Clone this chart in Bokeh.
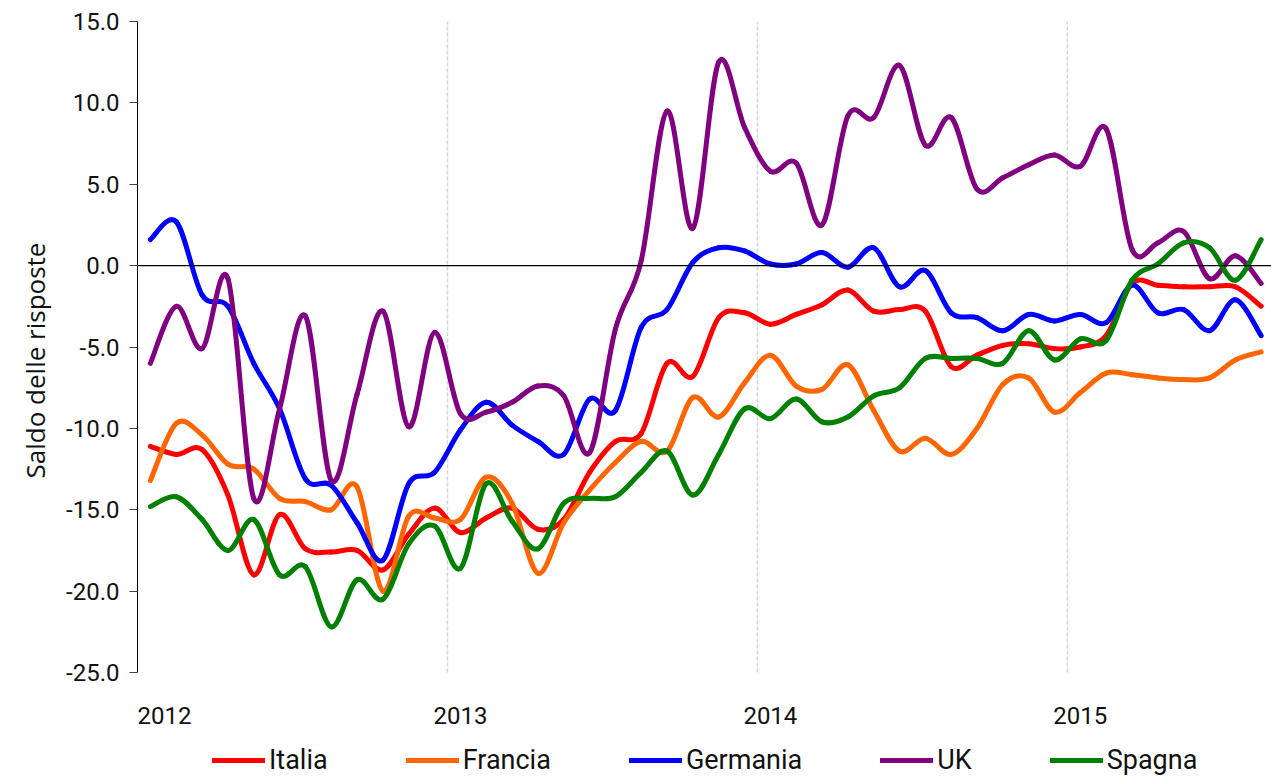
import numpy as np
from bokeh.plotting import figure
from bokeh.models import (FixedTicker, PrintfTickFormatter, Span, Legend, LegendItem,
                          ColumnDataSource, Title)
from bokeh.core.properties import value
from bokeh.embed import file_html
from bokeh.resources import INLINE

# ---- data (monthly, Jan 2012 - Aug 2015) ----
year_labels = ["2012", "2013", "2014", "2015"]
n_months = 44

italia = [-11.1, -11.6, -11.3, -14.1, -19.0, -15.3, -17.4, -17.6, -17.5, -18.7, -16.5, -14.9,
          -16.4, -15.5, -14.9, -16.2, -15.6, -12.7, -10.8, -10.3, -6.0, -6.8, -3.2, -2.9,
          -3.6, -3.0, -2.4, -1.5, -2.8, -2.7, -2.8, -6.2, -5.5, -4.9, -4.8, -5.1,
          -5.0, -4.3, -1.1, -1.2, -1.3, -1.3, -1.3, -2.5]
francia = [-13.2, -9.7, -10.4, -12.2, -12.5, -14.3, -14.5, -15.0, -13.6, -20.0, -15.4, -15.5,
           -15.6, -13.0, -14.6, -18.9, -15.8, -13.8, -12.1, -10.8, -11.4, -8.1, -9.3, -7.2,
           -5.5, -7.4, -7.6, -6.1, -8.9, -11.4, -10.6, -11.6, -10.0, -7.3, -6.9, -9.0,
           -7.8, -6.6, -6.7, -6.9, -7.0, -6.9, -5.8, -5.3]
germania = [1.6, 2.7, -1.8, -2.5, -6.0, -8.8, -13.1, -13.5, -15.8, -18.1, -13.4, -12.7,
            -10.1, -8.4, -9.8, -10.8, -11.6, -8.2, -8.9, -3.8, -2.7, 0.2, 1.1, 0.9,
            0.1, 0.1, 0.8, -0.1, 1.1, -1.3, -0.3, -2.9, -3.2, -4.0, -3.0, -3.4,
            -3.0, -3.5, -1.2, -2.9, -2.7, -4.0, -2.1, -4.3]
uk = [-6.0, -2.5, -5.1, -0.8, -14.3, -8.8, -3.1, -13.2, -7.9, -2.8, -9.9, -4.1,
      -9.1, -9.0, -8.4, -7.4, -8.0, -11.5, -3.9, 0.3, 9.5, 2.3, 12.5, 8.5,
      5.8, 6.3, 2.5, 9.2, 9.1, 12.3, 7.4, 9.1, 4.7, 5.4, 6.2, 6.8,
      6.1, 8.4, 1.0, 1.4, 2.1, -0.8, 0.6, -1.1]
spagna = [-14.8, -14.2, -15.6, -17.5, -15.6, -19.0, -18.5, -22.2, -19.3, -20.5, -17.1, -16.0,
          -18.6, -13.4, -15.7, -17.4, -14.6, -14.3, -14.2, -12.7, -11.4, -14.1, -11.6, -8.8,
          -9.4, -8.2, -9.6, -9.3, -8.0, -7.5, -5.7, -5.7, -5.7, -6.0, -4.0, -5.8,
          -4.5, -4.6, -0.9, 0.1, 1.4, 1.1, -0.9, 1.6]

series_names = ["Italia", "Francia", "Germania", "UK", "Spagna"]
series_values = [italia, francia, germania, uk, spagna]
series_colors = ["#FF0000", "#FF6600", "#0000FF", "#800080", "#008000"]
y_ticks = [-25, -20, -15, -10, -5, 0, 5, 10, 15]

# style: pixel nudge so the first year label stays inside the drawing area
year_label_nudge = [14, 0, 0, 0]

x_pos = np.arange(n_months) + 0.5                       # category centres
year_start = np.arange(len(year_labels)) * 12           # year boundaries
y_min, y_max = y_ticks[0], y_ticks[-1]


def bezier_source(xs, ys):
    xs = np.asarray(xs, float)
    ys = np.asarray(ys, float)
    n = len(xs)
    xp = np.concatenate([[xs[0]], xs, [xs[-1]]])
    yp = np.concatenate([[ys[0]], ys, [ys[-1]]])
    data = dict(
        x0=xp[1:n], y0=yp[1:n],
        x1=xp[2:n + 1], y1=yp[2:n + 1],
        cx0=xp[1:n] + (xp[2:n + 1] - xp[0:n - 1]) / 6.0,
        cy0=yp[1:n] + (yp[2:n + 1] - yp[0:n - 1]) / 6.0,
        cx1=xp[2:n + 1] - (xp[3:n + 2] - xp[1:n]) / 6.0,
        cy1=yp[2:n + 1] - (yp[3:n + 2] - yp[1:n]) / 6.0,
    )
    return ColumnDataSource(data)


# frame extends below -25 to host the year labels and the legend
p = figure(frame_width=1134, frame_height=755, x_range=(0, 43.9), y_range=(-31.39, 15),
           output_backend="svg", toolbar_location=None,
           min_border_left=137, min_border_top=21, min_border_right=0, min_border_bottom=0)
p.outline_line_color = None
p.background_fill_color = "white"
p.xaxis.visible = False
p.xgrid.visible = False
p.ygrid.visible = False

# vertical dashed year gridlines (only across the value area)
p.segment(x0=year_start[1:], y0=y_min, x1=year_start[1:], y1=y_max,
          line_color="#d4d4d4", line_width=1.5, line_dash="4 2")

# zero line
p.add_layout(Span(location=0, dimension="width", line_color="black", line_width=1.2))

# y axis
p.yaxis.bounds = (y_min, y_max)
p.yaxis.ticker = FixedTicker(ticks=y_ticks)
p.yaxis.formatter = PrintfTickFormatter(format="%.1f")
p.yaxis.major_tick_out = 8
p.yaxis.major_tick_in = 0
p.yaxis.minor_tick_line_color = None
p.yaxis.axis_line_color = "black"
p.yaxis.major_tick_line_color = "#444444"
p.yaxis.major_label_text_font = "Roboto"
p.yaxis.major_label_text_font_size = "24px"
p.yaxis.major_label_text_color = "#111111"
p.yaxis.major_label_standoff = 10

ytitle = Title(text="Saldo delle risposte", align="left", offset=298, standoff=22,
               text_font="Open Sans", text_font_size="26px", text_font_style="normal",
               text_color="#111111")
p.add_layout(ytitle, "left")

# year labels under the value area
p.text(x=year_start + 0.5, y=y_min - 2.64, text=year_labels, x_offset=year_label_nudge,
       text_font=value("Roboto"), text_font_size="24px", text_color="#111111",
       text_align="center", text_baseline="middle")

items = []
for name, vals, col in zip(series_names, series_values, series_colors):
    src = bezier_source(x_pos, vals)
    r = p.bezier(x0="x0", y0="y0", x1="x1", y1="y1", cx0="cx0", cy0="cy0", cx1="cx1", cy1="cy1",
                 source=src, line_color=col, line_width=5, line_cap="round")
    items.append(LegendItem(label=name, renderers=[r]))

legend = Legend(items=items, orientation="horizontal", location=(75, 0),
                glyph_width=53, glyph_height=20, label_height=20, label_standoff=4, spacing=78,
                label_text_font="Roboto", label_text_font_size="27px",
                label_text_color="#111111", margin=0, padding=0,
                border_line_color=None, background_fill_alpha=0)
p.add_layout(legend)

open("out.html", "w").write(file_html(p, INLINE))
